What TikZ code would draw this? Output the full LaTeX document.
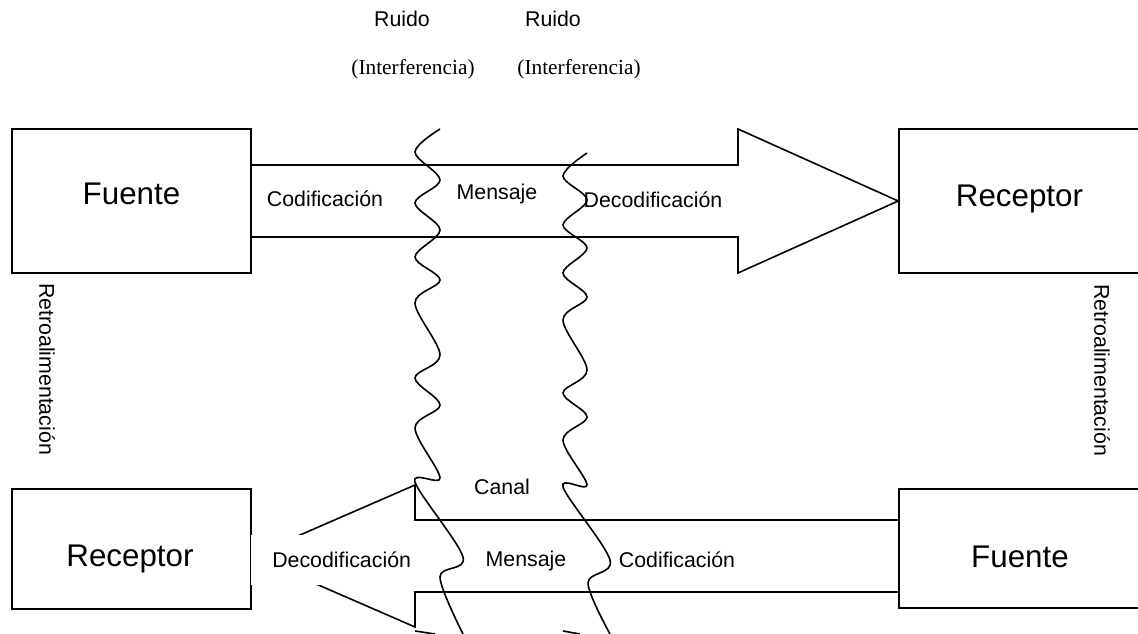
\documentclass[tikz,border=0pt]{standalone}
\usepackage{fontspec}
\setmainfont{Liberation Sans}
\newfontfamily\timesfont{Liberation Serif}

\begin{document}
\begin{tikzpicture}[x=0.75pt, y=-0.75pt]

  % Styles
  \tikzset{
    box/.style={draw, line width=1.2pt, inner sep=0pt},
    big/.style={font=\fontsize{23.5}{28}\selectfont, inner sep=0pt, anchor=base},
    small/.style={font=\fontsize{16}{19}\selectfont, inner sep=0pt, anchor=base},
    noise/.style={font=\timesfont\fontsize{16}{19}\selectfont, inner sep=0pt, anchor=base},
    block arrow/.style={line width=1.2pt, line join=miter},
    wave/.style={line width=1.2pt}
  }

  \useasboundingbox (0,0) rectangle (1138,634);

  % --- TOP: Fuente -> Receptor ---
  \node[box, minimum width=179.25pt, minimum height=108pt] (F1) at (131.5,201) {};
  \node[box, minimum width=180.75pt, minimum height=108pt] (R1) at (1019.5,201) {};
  % Arrow
  \draw[block arrow] (F1.east |- 0,165) -- (738,165) -- (738,129) -- (R1.west)
    -- (738,273) -- (738,237) -- (F1.east |- 0,237);
  % Labels
  \node[big] (tF1) at (131.5,205) {Fuente};
  \node[big] (tR1) at (1019.5,207) {Receptor};
  \node[small] (tCod1) at (325,207) {Codificación};
  \node[small] (tMen1) at (497,200) {Mensaje};
  \node[small] (tDec1) at (653,208) {Decodificación};

  % --- BOTTOM: Receptor <- Fuente ---
  \node[box, minimum width=179.25pt, minimum height=90pt] (R2) at (131.5,549) {};
  \node[box, minimum width=180.75pt, minimum height=89.25pt] (F2) at (1019.5,548.5) {};
  % Arrow
  \draw[block arrow] (F2.west |- 0,520) -- (415,520) -- (415,485) -- (R2.east |- 0,556)
    -- (415,627) -- (415,592) -- (F2.west |- 0,592);
  % Labels
  \node[big] (tR2) at (130,566) {Receptor};
  \node[big] (tF2) at (1020,567) {Fuente};
  \node[small, anchor=west, fill=white, inner xsep=15.75pt, minimum height=37.5pt]
    (tDec2) at (251,560) {Decodificación};
  \node[small] (tMen2) at (526,566) {Mensaje};
  \node[small] (tCod2) at (677,567) {Codificación};
  \node[small] (tCan) at (502,494) {Canal};

  % --- Feedback ---
  \node[small, anchor=center, rotate=-90] (tRet1) at (47,369) {Retroalimentación};
  \node[small, anchor=center, rotate=-90] (tRet2) at (1102,370) {Retroalimentación};

  % --- Noise ---
  \node[small] (tRui1) at (402,27) {Ruido};
  \node[small] (tRui2) at (553,27) {Ruido};
  \node[noise] (tInt1) at (413,75) {(Interferencia)};
  \node[noise] (tInt2) at (579,75) {(Interferencia)};
  \draw[wave] plot[smooth, tension=0.55] coordinates {(440,129) (415,152) (440,180)
    (415,203) (440,230) (415,257) (440,280) (415,303) (440,355) (415,378) (440,405)
    (415,428) (440,478) (415,482) (463,557) (440,577) (463,634)};
  \draw[wave] plot[smooth, tension=0.55] coordinates {(587,153) (563,176) (587,200)
    (563,225) (587,248) (563,273) (587,297) (563,320) (587,370) (563,393) (587,417)
    (563,440) (587,485) (563,487) (610,560) (588,583) (610,634)};
  \draw[wave] (415,631) -- (435,634);
  \draw[wave] (563,631) -- (580,634);

\end{tikzpicture}
\end{document}
